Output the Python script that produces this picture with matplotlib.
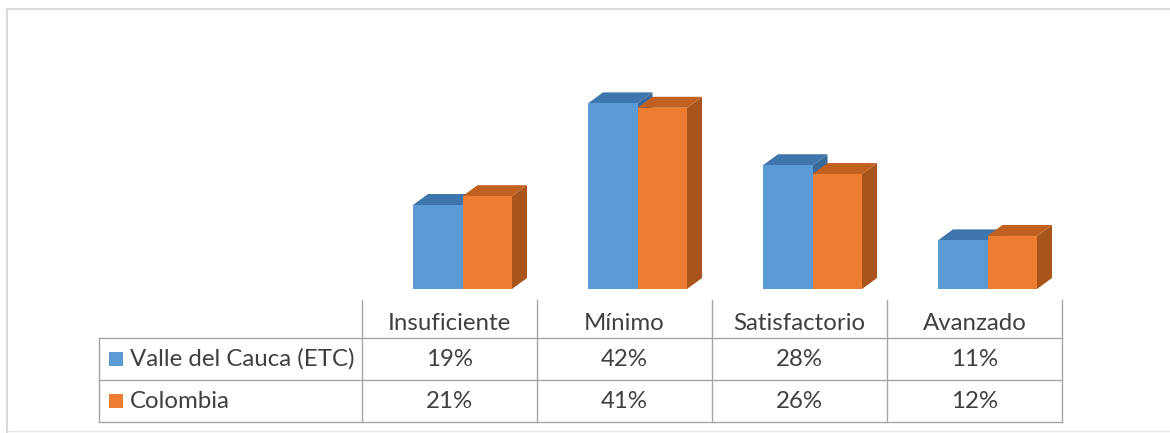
import matplotlib
matplotlib.use('Agg')
import matplotlib.pyplot as plt
from matplotlib.patches import Polygon

plt.rcParams['font.family'] = ['Lato', 'DejaVu Sans']

# data
categories = ['Insuficiente', 'Mínimo', 'Satisfactorio', 'Avanzado']
series_names = ['Valle del Cauca (ETC)', 'Colombia']
valle = [19, 42, 28, 11]
colombia = [21, 41, 26, 12]

W, H = 1170, 433
fig = plt.figure(figsize=(W / 100, H / 100), dpi=100)

# overlay in pixel coords for frame and data table
ov = fig.add_axes([0, 0, 1, 1])
ov.set_xlim(0, W)
ov.set_ylim(H, 0)
ov.axis('off')

# chart frame
ov.plot([7, W], [9, 9], color='#d9d9d9', lw=1.5)
ov.plot([7, 7], [9, 432], color='#d9d9d9', lw=1.5)
ov.plot([7, W], [431, 431], color='#e6e6e6', lw=1)

# plot area for the bars: x in category units, y in percent
col_w = 175
tab_left = 362
base_px = 289
px_per_pct = 4.42
plot_h = 200
ax = fig.add_axes([tab_left / W, (H - base_px) / H, 4 * col_w / W, plot_h / H])
ax.set_xlim(-0.5, 3.5)
ax.set_ylim(0, plot_h / px_per_pct)
ax.axis('off')

bw = 49.5 / col_w
off = 51 / col_w - 0.5
dx = 15 / col_w
dy = 11 / px_per_pct

front_cols = ['#5b9bd5', '#ed7d31']
top_cols = ['#3f75ad', '#c1611f']
side_cols = ['#3a6a9c', '#a9541b']


def bar3d(x0, v, k):
    ax.add_patch(Polygon([(x0 + bw, 0), (x0 + bw + dx, dy), (x0 + bw + dx, v + dy), (x0 + bw, v)],
                         closed=True, fc=side_cols[k], ec='none', zorder=2 + 3 * k))
    ax.add_patch(Polygon([(x0, v), (x0 + dx, v + dy), (x0 + bw + dx, v + dy), (x0 + bw, v)],
                         closed=True, fc=top_cols[k], ec='none', zorder=2 + 3 * k))
    ax.bar(x0, v, width=bw, align='edge', color=front_cols[k], zorder=3 + 3 * k)


for i in range(len(categories)):
    bar3d(i + off, valle[i], 0)
    bar3d(i + off + bw, colombia[i], 1)

# data table
line_c = '#a6a6a6'
txt_c = '#404040'
fs = 17.3
rows_y = [300, 338, 380, 422]
col_x = [tab_left + col_w * j for j in range(5)]
lab_left = 99

for x in col_x:
    ov.plot([x, x], [rows_y[0], rows_y[-1]], color=line_c, lw=1)
ov.plot([lab_left, lab_left], [rows_y[1], rows_y[-1]], color=line_c, lw=1)
for y in rows_y[1:]:
    ov.plot([lab_left, col_x[-1]], [y, y], color=line_c, lw=1)

for j, c in enumerate(categories):
    ov.text(col_x[j] + col_w / 2, 324, c, ha='center', va='center', fontsize=fs, color=txt_c)

for r, (name, vals) in enumerate(zip(series_names, [valle, colombia])):
    yc = (rows_y[r + 1] + rows_y[r + 2]) / 2
    ov.add_patch(plt.Rectangle((109, yc - 7), 14, 14, fc=front_cols[r], ec='none'))
    ov.text(130, yc, name, ha='left', va='center', fontsize=fs, color=txt_c)
    for j, v in enumerate(vals):
        ov.text(col_x[j] + col_w / 2, yc, f'{v}%', ha='center', va='center', fontsize=fs, color=txt_c)

fig.savefig('out.png', dpi=100, facecolor='white')
